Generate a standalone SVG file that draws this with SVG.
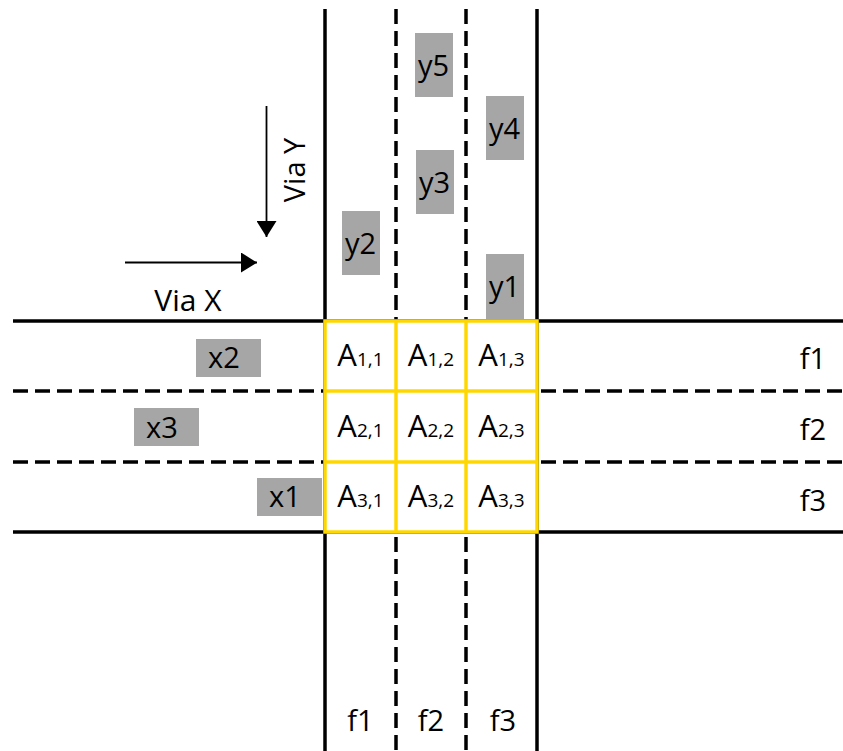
<svg xmlns="http://www.w3.org/2000/svg" width="843" height="751" viewBox="0 0 843 751">
  <style>
    text { font-family: "Open Sans", "Noto Sans", "Liberation Sans", sans-serif; fill: #000; }
    .edge { stroke: #000; stroke-width: 3.5; fill: none; }
    .lane { stroke: #000; stroke-width: 3.5; fill: none; stroke-dasharray: 15 7; }
    .grid { stroke: #FFD700; stroke-width: 3.5; fill: none; }
    .car { fill: #A6A6A6; }
    .lbl { font-size: 29px; text-anchor: middle; }
    .cell { font-size: 31px; text-anchor: middle; }
    .sub { font-size: 19px; }
    .arrow { stroke: #000; stroke-width: 1.8; fill: none; }
  </style>
  <defs>
    <marker id="head" viewBox="0 0 16 20" refX="16" refY="10" markerUnits="userSpaceOnUse" markerWidth="16" markerHeight="20" orient="auto">
      <path d="M0,0 L16,10 L0,20 Z" fill="#000"/>
    </marker>
  </defs>
  <rect width="843" height="751" fill="#fff"/>

  <!-- road Y (vertical) -->
  <g id="road-y">
    <line class="edge" x1="325" y1="9" x2="325" y2="751"/>
    <line class="edge" x1="537" y1="9" x2="537" y2="751"/>
    <line class="lane" x1="396" y1="9" x2="396" y2="751"/>
    <line class="lane" x1="466" y1="9" x2="466" y2="751"/>
  </g>

  <!-- road X (horizontal) -->
  <g id="road-x">
    <line class="edge" x1="13" y1="321" x2="843" y2="321"/>
    <line class="edge" x1="13" y1="532" x2="843" y2="532"/>
    <line class="lane" x1="13" y1="391" x2="843" y2="391"/>
    <line class="lane" x1="13" y1="462" x2="843" y2="462"/>
  </g>

  <!-- intersection cells -->
  <g id="grid">
    <rect x="325" y="321" width="212" height="211" fill="#fff"/>
    <rect class="grid" x="325" y="321" width="212" height="211"/>
    <line class="grid" x1="396" y1="321" x2="396" y2="532"/>
    <line class="grid" x1="466" y1="321" x2="466" y2="532"/>
    <line class="grid" x1="325" y1="391" x2="537" y2="391"/>
    <line class="grid" x1="325" y1="462" x2="537" y2="462"/>
  </g>
  <g id="cells">
    <text class="cell" x="360.5" y="366">A<tspan class="sub">1,1</tspan></text>
    <text class="cell" x="431" y="366">A<tspan class="sub">1,2</tspan></text>
    <text class="cell" x="501.5" y="366">A<tspan class="sub">1,3</tspan></text>
    <text class="cell" x="360.5" y="436.5">A<tspan class="sub">2,1</tspan></text>
    <text class="cell" x="431" y="436.5">A<tspan class="sub">2,2</tspan></text>
    <text class="cell" x="501.5" y="436.5">A<tspan class="sub">2,3</tspan></text>
    <text class="cell" x="360.5" y="507">A<tspan class="sub">3,1</tspan></text>
    <text class="cell" x="431" y="507">A<tspan class="sub">3,2</tspan></text>
    <text class="cell" x="501.5" y="507">A<tspan class="sub">3,3</tspan></text>
  </g>

  <!-- vehicles on road Y -->
  <g id="y5"><rect class="car" x="415" y="33" width="38" height="64"/><text class="lbl" x="433.5" y="76">y5</text></g>
  <g id="y4"><rect class="car" x="486" y="96" width="38" height="64"/><text class="lbl" x="504.5" y="139">y4</text></g>
  <g id="y3"><rect class="car" x="416" y="150" width="38" height="64"/><text class="lbl" x="434.5" y="193">y3</text></g>
  <g id="y2"><rect class="car" x="342" y="211" width="38" height="64"/><text class="lbl" x="360.5" y="254">y2</text></g>
  <g id="y1"><rect class="car" x="486" y="254" width="38" height="65"/><text class="lbl" x="504.5" y="297">y1</text></g>

  <!-- vehicles on road X -->
  <g id="x2"><rect class="car" x="196" y="339" width="65" height="38"/><text class="lbl" x="224" y="368">x2</text></g>
  <g id="x3"><rect class="car" x="134" y="408" width="65" height="38"/><text class="lbl" x="162" y="438">x3</text></g>
  <g id="x1"><rect class="car" x="257" y="478" width="65" height="38"/><text class="lbl" x="285" y="507">x1</text></g>

  <!-- lane labels -->
  <g id="lanes-x">
    <text class="lbl" x="813" y="369">f1</text>
    <text class="lbl" x="813" y="440">f2</text>
    <text class="lbl" x="813" y="511">f3</text>
  </g>
  <g id="lanes-y">
    <text class="lbl" x="360.5" y="731">f1</text>
    <text class="lbl" x="431" y="731">f2</text>
    <text class="lbl" x="503" y="731">f3</text>
  </g>

  <!-- direction arrows -->
  <g id="connectors">
    <line class="arrow" x1="266.5" y1="106" x2="266.5" y2="237" marker-end="url(#head)"/>
    <line class="arrow" x1="125" y1="262.5" x2="257" y2="262.5" marker-end="url(#head)"/>
  </g>
  <g id="via-labels">
    <text class="lbl" x="188" y="311" style="font-size:30px">Via X</text>
    <text class="lbl" transform="translate(305 170) rotate(-90)" x="0" y="0">Via Y</text>
  </g>
</svg>
